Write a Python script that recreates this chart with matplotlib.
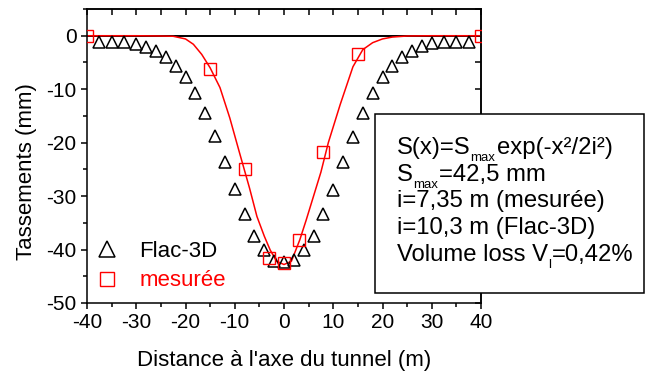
import matplotlib
matplotlib.use("Agg")
import matplotlib.pyplot as plt
from matplotlib.patches import Rectangle
from matplotlib.ticker import MultipleLocator, NullFormatter

plt.rcParams['font.family'] = ['Liberation Sans', 'DejaVu Sans']

# Flac-3D simulation (triangles)
x_flac = [-37.5, -35, -32.5, -30, -28, -26, -24, -22, -20, -18, -16, -14, -12,
          -10, -8, -6, -4, -2, 0, 2, 4, 6, 8, 10, 12, 14, 16, 18, 20, 22, 24,
          26, 28, 30, 32.5, 35, 37.5]
y_flac = [-1.25, -1.25, -1.25, -1.6, -2.2, -2.9, -4.0, -5.7, -7.8, -10.7, -14.4,
          -18.7, -23.7, -28.7, -33.3, -37.5, -40.1, -42.1, -42.4, -41.9, -40.1,
          -37.5, -33.4, -28.8, -23.7, -18.9, -14.5, -10.7, -7.7, -5.7, -4.0,
          -2.8, -2.0, -1.4, -1.25, -1.25, -1.25]

# measured settlements (squares)
x_mes = [-40, -15, -8, -3, 0, 3, 8, 15, 40]
y_mes = [0, -6.2, -24.9, -41.6, -42.6, -38.2, -21.8, -3.4, 0]

# fitted curve
x_fit = [-40, -30, -25, -22.5, -20, -18.4, -16.7, -15, -13, -11, -9, -7, -5.5,
         -4, -2.8, -1.5, 0, 1.5, 3.2, 4.5, 6, 7.5, 9, 11.4, 14, 16, 18, 20, 22,
         25, 30, 40]
y_fit = [0, 0, -0.05, -0.1, -0.6, -1.6, -3.5, -6.0, -9.7, -15.4, -22, -28.5,
         -33.8, -37.5, -40.1, -42.2, -42.8, -42.2, -38.2, -34.5, -30, -25.5, -20,
         -12.9, -5.8, -2.6, -1.3, -0.6, -0.25, -0.05, 0, 0]

x_ticks = list(range(-40, 41, 10))
y_ticks = list(range(-50, 1, 10))

W, H = 647, 374
fig = plt.figure(figsize=(W / 100, H / 100), dpi=100)
ax = fig.add_axes([87 / W, 1 - 303 / H, (481 - 87) / W, (303 - 9) / H])

ax.axhline(0, color='black', lw=1.4, zorder=1)
ax.plot(x_fit, y_fit, color='red', lw=1.1, zorder=2)
ax.plot(x_flac, y_flac, ls='none', marker='^', ms=9, mfc='none', mec='black',
        mew=1.1, label='Flac-3D', zorder=3)
ax.plot(x_mes, y_mes, ls='none', marker='s', ms=8.5, mfc='none', mec='red',
        mew=1.0, label='mesurée', zorder=4)

ax.set_xlim(-40, 40)
ax.set_ylim(-50, 5)
ax.set_xticks(x_ticks)
ax.set_xticklabels([str(v) for v in x_ticks])
ax.set_yticks(y_ticks)
ax.set_yticklabels([str(v) for v in y_ticks])
ax.xaxis.set_minor_locator(MultipleLocator(5))
ax.yaxis.set_minor_locator(MultipleLocator(5))
ax.tick_params(which='both', direction='out', width=1.1, labelsize=15, pad=3)
ax.tick_params(which='major', length=4.5)
ax.tick_params(which='minor', length=3)
for s in ax.spines.values():
    s.set_linewidth(1.1)

# mirrored axes on top and right, ticks pointing inward
top = ax.secondary_xaxis('top')
top.set_xticks(x_ticks)
top.xaxis.set_minor_locator(MultipleLocator(5))
top.xaxis.set_major_formatter(NullFormatter())
top.tick_params(which='both', direction='in', width=1.1, length=4.5)
right = ax.secondary_yaxis('right')
right.set_yticks(y_ticks)
right.yaxis.set_minor_locator(MultipleLocator(5))
right.yaxis.set_major_formatter(NullFormatter())
right.tick_params(which='both', direction='in', width=1.1, length=4.5)
for sec in (top, right):
    for s in sec.spines.values():
        s.set_linewidth(1.1)

ax.set_xlabel("Distance à l'axe du tunnel (m)", fontsize=16, labelpad=12.5)
ax.set_ylabel("Tassements (mm)", fontsize=16)
ax.yaxis.set_label_coords(-0.127, 1 - (172 - 9) / 294)

leg = ax.legend(loc='upper left', bbox_to_anchor=(96 / W, 1 - 241 / H),
                bbox_transform=fig.transFigure, frameon=False, fontsize=16,
                handlelength=1.0, handletextpad=0.95, labelspacing=0.38,
                borderpad=0, borderaxespad=0, markerscale=1.25)
leg.get_texts()[1].set_color('red')

# info box drawn over the right spine
fig.patches.append(Rectangle((375 / W, 1 - 293 / H), (644 - 375) / W,
                             (293 - 114) / H, transform=fig.transFigure,
                             facecolor='white', edgecolor='black', lw=1.1,
                             zorder=5))

renderer = fig.canvas.get_renderer()


def rich_line(x0, yb, parts):
    # parts: (text, is_subscript)
    x = x0
    for txt, sub in parts:
        size = 9.5 if sub else 17.2
        dy = 7 if sub else 0
        t = fig.text(x / W, 1 - (yb + dy) / H, txt, fontsize=size,
                     va='baseline', ha='left', zorder=6)
        x = t.get_window_extent(renderer).x1 + (1 if sub else 0)


box_lines = [
    [("S(x)=S", False), ("max", True), ("exp(-x²/2i²)", False)],
    [("S", False), ("max", True), ("=42,5 mm", False)],
    [("i=7,35 m (mesurée)", False)],
    [("i=10,3 m (Flac-3D)", False)],
    [("Volume loss V", False), ("l", True), ("=0,42%", False)],
]
baselines = [154.3, 181, 207.5, 234, 260.7]
for parts, yb in zip(box_lines, baselines):
    rich_line(397, yb, parts)

fig.savefig("out.png", dpi=100)
